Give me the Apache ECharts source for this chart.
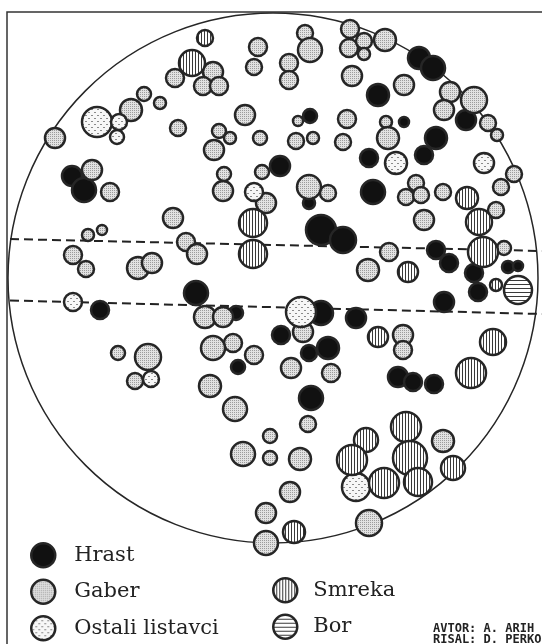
<!DOCTYPE html>
<html>
<head>
<meta charset="utf-8">
<script src="https://cdn.jsdelivr.net/npm/echarts@6/dist/echarts.min.js"></script>
<style>html,body{margin:0;padding:0;background:#fff}#c{width:542px;height:644px}</style>
</head>
<body>
<div id="c"></div>
<script>
// Tree positions on the plot map: [x, y, crown radius]
const hrast = [
  [419,58,11],[433,68,12],[378,95,11],[466,120,10],[404,122,5],[436,138,11],[424,155,9],
  [369,158,9],[310,116,7],[280,166,10],[72,176,10],[84,190,12],[373,192,12],[309,203,6],
  [321,230,15],[343,240,13],[436,250,9],[449,263,9],[474,273,9],[508,267,6],[518,266,5],
  [478,292,9],[444,302,10],[196,293,12],[100,310,9],[236,313,7],[321,313,12],[356,318,10],
  [281,335,9],[309,353,8],[328,348,11],[238,367,7],[311,398,12],[398,377,10],[413,382,9],[434,384,9]
];
const gaber = [
  [258,47,9],[254,67,8],[305,33,8],[310,50,12],[289,63,9],[289,80,9],[350,29,9],[349,48,9],
  [352,76,10],[364,41,8],[364,54,6],[385,40,11],[213,72,10],[203,86,9],[219,86,9],[175,78,9],
  [178,128,8],[404,85,10],[450,92,10],[474,100,13],[444,110,10],[488,123,8],[497,135,6],
  [386,122,6],[388,138,11],[514,174,8],[55,138,10],[131,110,11],[144,94,7],[160,103,6],
  [92,170,10],[110,192,9],[245,115,10],[298,121,5],[347,119,9],[219,131,7],[230,138,6],
  [214,150,10],[260,138,7],[296,141,8],[313,138,6],[343,142,8],[224,174,7],[262,172,7],
  [223,191,10],[266,203,10],[309,187,12],[328,193,8],[173,218,10],[88,235,6],[102,230,5],
  [73,255,9],[86,269,8],[138,268,11],[152,263,10],[186,242,9],[197,254,10],[416,183,8],
  [406,197,8],[421,195,8],[443,192,8],[501,187,8],[496,210,8],[424,220,10],[389,252,9],
  [504,248,7],[368,270,11],[205,317,11],[223,317,10],[303,332,10],[233,343,9],[213,348,12],
  [254,355,9],[403,335,10],[403,350,9],[118,353,7],[148,357,13],[135,381,8],[291,368,10],
  [331,373,9],[210,386,11],[235,409,12],[308,424,8],[270,436,7],[243,454,12],[270,458,7],
  [300,459,11],[290,492,10],[266,513,10],[266,543,12],[443,441,11],[369,523,13]
];
const ostali = [
  [97,122,15],[119,122,8],[117,137,7],[484,163,10],[396,163,11],[254,192,9],[73,302,9],
  [301,312,15],[151,379,8],[356,487,14]
];
const smreka = [
  [205,38,8],[192,63,13],[253,223,14],[253,254,14],[467,198,11],[479,222,13],[483,252,15],
  [408,272,10],[496,285,6],[378,337,10],[493,342,13],[471,373,15],[366,440,12],[406,427,15],
  [352,460,15],[410,458,17],[453,468,12],[384,483,15],[418,482,14],[294,532,11]
];
const bor = [[518,290,14]];
const plotCircle = [[273,278,265]];
const lineUpper = [[10,239],[542,251]];
const lineLower = [[10,300.5],[542,314]];
const speciesNames = ['Hrast','Gaber','Ostali listavci','Smreka','Bor'];

function tile(w, h, draw) {
  const cv = document.createElement('canvas');
  cv.width = w; cv.height = h;
  const ctx = cv.getContext('2d');
  draw(ctx);
  return {image: cv, repeat: 'repeat'};
}
const patGaber = tile(2, 2, c => {
  c.fillStyle = '#e2e2e2'; c.fillRect(0,0,2,2);
  c.fillStyle = '#9c9c9c'; c.fillRect(0,0,1,1);
});
const patOstali = tile(6, 6, c => {
  c.fillStyle = '#f7f7f7'; c.fillRect(0,0,6,6);
  c.fillStyle = '#8a8a8a'; c.fillRect(1,1,2,1); c.fillRect(4,4,2,1);
});
const patSmreka = tile(3, 3, c => {
  c.fillStyle = '#ffffff'; c.fillRect(0,0,3,3);
  c.fillStyle = '#3a3a3a'; c.fillRect(0,0,1,3);
});
const patBor = tile(4, 4, c => {
  c.fillStyle = '#ffffff'; c.fillRect(0,0,4,4);
  c.fillStyle = '#3a3a3a'; c.fillRect(0,0,4,1);
});

const stroke = '#262626';
function circleSeries(name, data, fill, lineWidth, z) {
  return {
    name: name, type: 'custom', data: data, silent: true, z: z,
    itemStyle: {color: fill, borderColor: stroke, borderWidth: lineWidth},
    renderItem: function (params, api) {
      const p = api.coord([api.value(0), api.value(1)]);
      const r = api.size([api.value(2), 0])[0];
      return {
        type: 'circle',
        shape: {cx: p[0], cy: p[1], r: r},
        style: {fill: fill, stroke: stroke, lineWidth: lineWidth}
      };
    }
  };
}

const chart = echarts.init(document.getElementById('c'), null, {renderer: 'canvas'});
chart.setOption({
  animation: false,
  grid: {left: 0, right: 0, top: 0, bottom: 0},
  xAxis: {type: 'value', min: 0, max: 542, show: false},
  yAxis: {type: 'value', min: 0, max: 644, inverse: true, show: false},
  title: {
    text: 'AVTOR: A. ARIH\nRISAL: D. PERKO',
    left: 433, top: 623, padding: 0,
    textStyle: {fontFamily: 'DejaVu Sans Mono', fontSize: 12, fontWeight: 'bold', color: '#222', lineHeight: 11}
  },
  legend: [
    {
      data: speciesNames.slice(0, 3), orient: 'vertical', left: 30, top: 542, padding: 0,
      itemWidth: 24, itemHeight: 24, itemGap: 10, icon: 'circle', selectedMode: false,
      itemStyle: {borderColor: stroke, borderWidth: 2.5},
      textStyle: {fontFamily: 'DejaVu Serif', fontSize: 21, color: '#222', padding: [0,0,0,14]}
    },
    {
      data: speciesNames.slice(3), orient: 'vertical', left: 272, top: 577, padding: 0,
      itemWidth: 24, itemHeight: 24, itemGap: 10, icon: 'circle', selectedMode: false,
      itemStyle: {borderColor: stroke, borderWidth: 2.5},
      textStyle: {fontFamily: 'DejaVu Serif', fontSize: 21, color: '#222', padding: [0,0,0,11]}
    }
  ],
  graphic: [{
    type: 'rect', shape: {x: 7, y: 12, width: 700, height: 800},
    style: {fill: null, stroke: '#333', lineWidth: 1.5}, silent: true, z: 0
  }],
  series: [
    circleSeries('plot', plotCircle, 'rgba(0,0,0,0)', 1.5, 1),
    {
      type: 'line', data: lineUpper, symbol: 'none', silent: true, z: 2,
      lineStyle: {color: '#222', width: 2, type: [9, 5]}
    },
    {
      type: 'line', data: lineLower, symbol: 'none', silent: true, z: 2,
      lineStyle: {color: '#222', width: 2, type: [9, 5]}
    },
    circleSeries('Hrast', hrast, '#111111', 2.5, 3),
    circleSeries('Gaber', gaber, patGaber, 2.5, 3),
    circleSeries('Ostali listavci', ostali, patOstali, 2.5, 3),
    circleSeries('Smreka', smreka, patSmreka, 2.5, 3),
    circleSeries('Bor', bor, patBor, 2.5, 3)
  ]
});
</script>
</body>
</html>
